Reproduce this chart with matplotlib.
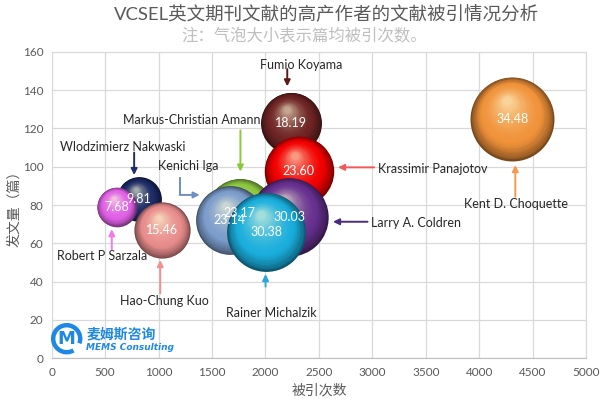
import numpy as np
import matplotlib
matplotlib.use('Agg')
import matplotlib.pyplot as plt
from matplotlib.colors import to_rgb
from matplotlib.transforms import offset_copy
from matplotlib.patches import Arc

plt.rcParams['font.family'] = ['Lato', 'Noto Sans CJK SC', 'DejaVu Sans']

# 数据
authors = ['Kent D. Choquette', 'Fumio Koyama', 'Krassimir Panajotov',
           'Wlodzimierz Nakwaski', 'Robert P Sarzala', 'Hao-Chung Kuo',
           'Markus-Christian Amann', 'Larry A. Coldren', 'Kenichi Iga',
           'Rainer Michalzik']
citations = [4310, 2237, 2313, 814, 607, 1036, 1761, 2222, 1666, 2005]
papers = [125, 123, 98, 83, 79, 67, 76, 74, 72, 66]
avg_cite = [34.48, 18.19, 23.60, 9.81, 7.68, 15.46, 23.17, 30.03, 23.14, 30.38]
colors = ['#F0923A', '#6E2424', '#F20000', '#1C2A66', '#E060E6', '#E88C8C',
          '#8CC63F', '#66308F', '#7C9CCB', '#1AAEDD']
arrow_colors = ['#F39A4B', '#5B1A1A', '#F05A5A', '#1F2D6B', '#F07AF0', '#F09090',
                '#8DC63F', '#4B2A7B', '#6F8FC0', '#2AA8D8']

fig = plt.figure(figsize=(6, 3.99), dpi=100)
ax = fig.add_axes([0.086, 0.102, 0.891, 0.768])


def mix(a, b, t):
    return tuple(np.array(a) * (1 - t) + np.array(b) * t)


# 球形气泡
def sphere(x, y, v, color, z):
    r_pt = 7.15 * np.sqrt(v) * 0.72
    base = to_rgb(color)
    dark = mix(base, (0, 0, 0), 0.5)
    light = mix(base, (1, 1, 0.85), 0.6)
    N = 30
    d = np.array([-0.28, 0.96])
    d = d / np.linalg.norm(d)
    for i in range(N):
        t = i / (N - 1)
        rr = r_pt * (1 - 0.9 * t)
        off = (r_pt - rr) * 0.5
        if t < 0.3:
            col = mix(dark, base, (t / 0.3) ** 0.7)
        else:
            col = mix(base, light, ((t - 0.3) / 0.7) ** 1.6)
        tr = offset_copy(ax.transData, fig=fig, x=off * d[0], y=off * d[1], units='points')
        ax.scatter([x], [y], s=(2 * rr) ** 2, color=[col], transform=tr,
                   zorder=z + i * 0.001, linewidths=0)


for i in range(len(authors)):
    sphere(citations[i], papers[i], avg_cite[i], colors[i], 3 + i)
    ax.text(citations[i], papers[i], '%.2f' % avg_cite[i], color='white',
            fontsize=9, ha='center', va='center', zorder=50)

ax.set_xlim(0, 5000)
ax.set_ylim(0, 160)
ax.set_xticks(np.arange(0, 5001, 500))
ax.set_yticks(np.arange(0, 161, 20))
ax.grid(True, color='#D9D9D9', lw=0.9)
ax.set_axisbelow(True)
ax.tick_params(length=0, colors='#595959', labelsize=8.5, pad=6)
for s in ax.spines.values():
    s.set_color('#D9D9D9')
ax.spines['bottom'].set_color('#BFBFBF')
ax.set_xlabel('被引次数', color='#595959', fontsize=10, labelpad=4)
ax.set_ylabel('发文量（篇）', color='#595959', fontsize=10, labelpad=2)

# 标注
ann = {
    'Fumio Koyama': ((2339, 153), 'center', (2204, 151), (2204, 142)),
    'Markus-Christian Amann': ((1307, 124.4), 'center', (1766, 119), (1766, 97.5)),
    'Wlodzimierz Nakwaski': ((669, 110.2), 'center', (772, 107.4), (772, 95.7)),
    'Krassimir Panajotov': ((3049, 98.7), 'left', (3017, 99.7), (2679, 99.7)),
    'Larry A. Coldren': ((2986, 70.5), 'left', (2955, 71.3), (2632, 71.3)),
    'Kent D. Choquette': ((4346, 80.6), 'center', (4337, 84.4), (4337, 100.9)),
    'Robert P Sarzala': ((469, 53.4), 'center', (563, 56.9), (563, 67.4)),
    'Hao-Chung Kuo': ((1051, 29.9), 'center', (1016, 33.9), (1016, 51.3)),
    'Rainer Michalzik': ((2057, 23.5), 'center', (2001, 37.4), (2001, 44.0)),
    'Kenichi Iga': ((1274, 100.4), 'center', (1197, 85.3), (1385, 85.3)),
}
for name, (tp, ha, a0, a1) in ann.items():
    c = arrow_colors[authors.index(name)]
    ax.text(tp[0], tp[1], name, fontsize=9, color='#262626', ha=ha, va='center', zorder=60)
    if name == 'Kenichi Iga':
        ax.plot([1197, 1197], [94.8, 85.3], color=c, lw=1.4, zorder=60, solid_capstyle='butt')
    ax.annotate('', xy=a1, xytext=a0,
                arrowprops=dict(arrowstyle='-|>', color=c, lw=1.4, mutation_scale=9,
                                shrinkA=0, shrinkB=0), zorder=60)

# 标题
fig.text(326 / 600, 1 - 13 / 399, 'VCSEL英文期刊文献的高产作者的文献被引情况分析',
         ha='center', va='center', fontsize=13.3, color='#595959')
fig.text(304 / 600, 1 - 35 / 399, '注：气泡大小表示篇均被引次数。',
         ha='center', va='center', fontsize=11.8, color='#BFBFBF')

# logo
lax = fig.add_axes([0, 0, 1, 1], zorder=100)
lax.set_xlim(0, 600)
lax.set_ylim(399, 0)
lax.axis('off')
lax.add_patch(Arc((66.7, 338.7), 27, 27, theta1=-300, theta2=20, color='#1E88E5', lw=3.2))
lax.text(66.7, 339.5, 'M', color='#1E88E5', fontsize=13, fontweight='bold',
         ha='center', va='center', family='DejaVu Sans')
lax.text(86, 334, '麦姆斯咨询', color='#1E88E5', fontsize=10, fontweight='bold',
         ha='left', va='center', family='Noto Sans CJK SC')
lax.text(86, 348, 'MEMS Consulting', color='#1E88E5', fontsize=6.5, fontweight='bold',
         style='italic', ha='left', va='center', family='DejaVu Sans')

fig.savefig('out.png', dpi=100)
